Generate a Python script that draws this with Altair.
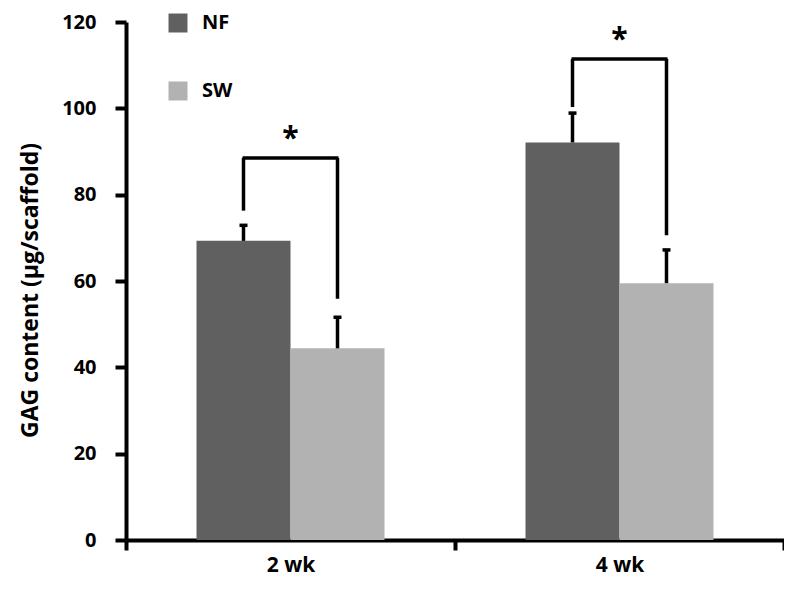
import altair as alt
import pandas as pd

groups = ["2 wk", "4 wk"]
series = ["NF", "SW"]
colors = ["#606060", "#b2b2b2"]
nf_mean = [69.3, 92.1]
sw_mean = [44.4, 59.5]
nf_upper = [72.9, 98.9]
sw_upper = [51.6, 67.2]
bracket_y = [88.5, 111.4]
nf_leg_end = [76.3, 100.3]
sw_leg_end = [55.9, 70.6]
stars = ["*", "*"]

rows = []
for i, g in enumerate(groups):
    rows.append(dict(group=g, series="NF", mean=nf_mean[i], upper=nf_upper[i],
                     leg=nf_leg_end[i], bracket=bracket_y[i]))
    rows.append(dict(group=g, series="SW", mean=sw_mean[i], upper=sw_upper[i],
                     leg=sw_leg_end[i], bracket=bracket_y[i]))
df = pd.DataFrame(rows)
br = pd.DataFrame(dict(group=groups, bracket=bracket_y, star=stars))

FONT = "Open Sans"

xenc = alt.X("group:N", sort=groups, title=None,
             scale=alt.Scale(paddingInner=0, paddingOuter=0),
             axis=alt.Axis(labelAngle=0, labelFont=FONT, labelFontSize=21,
                           labelFontWeight="bold", labelColor="black",
                           labelPadding=4, domainColor="black", domainWidth=4,
                           tickColor="black", tickWidth=4, tickSize=10,
                           tickBand="extent"))
xoff = alt.XOffset("series:N", sort=series,
                   scale=alt.Scale(paddingInner=0, paddingOuter=0.75))
yscale = alt.Scale(domain=[0, 120], nice=False)
yenc = alt.Y("mean:Q", scale=yscale,
             title="GAG content (µg/scaffold)",
             axis=alt.Axis(values=[0, 20, 40, 60, 80, 100, 120], grid=False,
                           labelFont=FONT, labelFontSize=20, labelFontWeight="bold",
                           labelColor="black", labelPadding=19,
                           titleFont=FONT, titleFontSize=23, titleFontWeight="bold",
                           titleColor="black", titleX=-96, titleY=268,
                           titleAngle=270, titleBaseline="middle", titleAlign="center",
                           domainColor="black", domainWidth=4,
                           tickColor="black", tickWidth=4, tickSize=11))

bars = alt.Chart(df).mark_bar(opacity=1).encode(
    x=xenc, xOffset=xoff, y=yenc,
    color=alt.Color("series:N", sort=series,
                    scale=alt.Scale(domain=series, range=colors),
                    legend=alt.Legend(title=None, orient="none", legendX=42, legendY=-9,
                                      symbolType="square", symbolSize=361,
                                      symbolStrokeWidth=0, symbolOpacity=1,
                                      labelFont=FONT, labelFontSize=20,
                                      labelFontWeight="bold", labelColor="black",
                                      labelOffset=14, rowPadding=48, padding=0)),
)

err = alt.Chart(df).mark_rule(color="black", strokeWidth=3.5).encode(
    x=alt.X("group:N", sort=groups), xOffset=xoff,
    y=alt.Y("mean:Q", scale=yscale), y2="upper:Q")
caps = alt.Chart(df).mark_tick(color="black", size=8, thickness=3.5, opacity=1).encode(
    x=alt.X("group:N", sort=groups), xOffset=xoff,
    y=alt.Y("upper:Q", scale=yscale))
legs = alt.Chart(df).mark_rule(color="black", strokeWidth=3.5).encode(
    x=alt.X("group:N", sort=groups), xOffset=xoff,
    y=alt.Y("leg:Q", scale=yscale), y2="bracket:Q")
top = alt.Chart(br).mark_tick(color="black", size=96, thickness=3.5, opacity=1).encode(
    x=alt.X("group:N", sort=groups),
    y=alt.Y("bracket:Q", scale=yscale))
star = alt.Chart(br).mark_text(font=FONT, fontSize=30, fontWeight="bold",
                               color="black", baseline="middle", dy=-19).encode(
    x=alt.X("group:N", sort=groups),
    y=alt.Y("bracket:Q", scale=yscale), text="star:N")

chart = alt.layer(bars, err, caps, legs, top, star).properties(
    width=658, height=518,
    autosize=alt.AutoSizeParams(type="none"),
    padding={"left": 118, "top": 14, "right": 0, "bottom": 44},
).configure_view(stroke=None)

chart.save("out.html", embed_options={"renderer": "svg", "actions": False})
